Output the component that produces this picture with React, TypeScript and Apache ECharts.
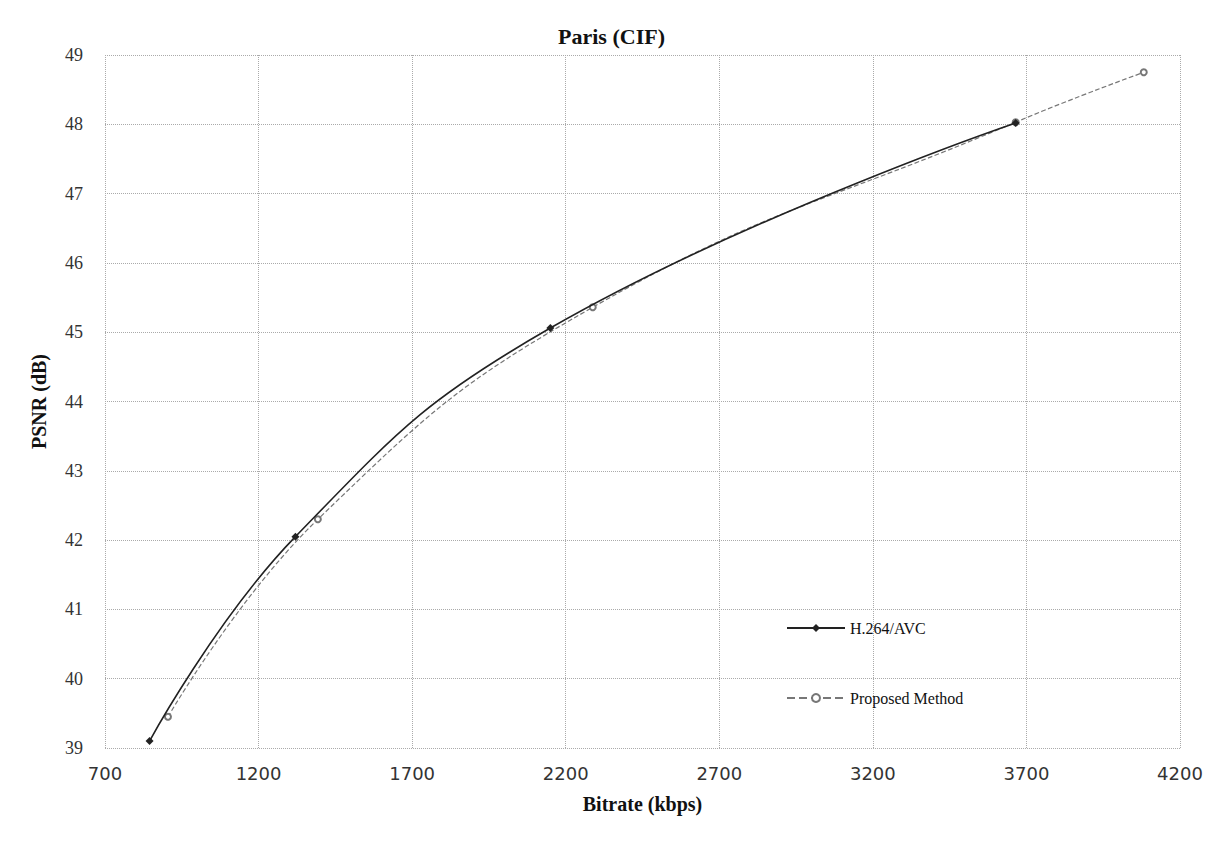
import React, { useEffect, useRef } from "react";
import * as echarts from "echarts";

const xTicks = [700, 1200, 1700, 2200, 2700, 3200, 3700, 4200];
const yTicks = [39, 40, 41, 42, 43, 44, 45, 46, 47, 48, 49];

const h264Rate = [845, 1320, 2150, 3665];
const h264Psnr = [39.1, 42.05, 45.06, 48.02];

const propRate = [905, 1393, 2288, 3665, 4082];
const propPsnr = [39.45, 42.3, 45.36, 48.03, 48.75];

const seriesNames = ["H.264/AVC", "Proposed Method"];

export default function App() {
  const ref = useRef<HTMLDivElement>(null);
  useEffect(() => {
    if (!ref.current) return;
    const chart = echarts.init(ref.current, undefined, { renderer: "svg" });
    const serif = "'Liberation Serif', 'DejaVu Serif', serif";
    chart.setOption({
      animation: false,
      backgroundColor: "#ffffff",
      title: {
        text: "Paris (CIF)",
        left: "center",
        top: 12,
        textStyle: { fontFamily: serif, fontWeight: "bold", fontSize: 22, color: "#111" },
      },
      grid: { left: 97, right: 35, top: 47, bottom: 87 },
      legend: {
        orient: "vertical",
        left: 773,
        top: 607,
        itemGap: 54,
        itemWidth: 58,
        itemHeight: 10,
        data: seriesNames,
        textStyle: { fontFamily: serif, fontSize: 16, color: "#111" },
      },
      xAxis: {
        type: "value",
        min: xTicks[0],
        max: xTicks[xTicks.length - 1],
        interval: 500,
        name: "Bitrate (kbps)",
        nameLocation: "middle",
        nameGap: 46,
        nameTextStyle: { fontFamily: serif, fontWeight: "bold", fontSize: 20, color: "#111" },
        axisLine: { show: false },
        axisTick: { show: false },
        axisLabel: {
          fontFamily: "'DejaVu Sans', sans-serif",
          fontSize: 18,
          color: "#333",
          margin: 16,
          formatter: (v: number) => String(v),
        },
        splitLine: { show: true, lineStyle: { type: "dotted", color: "#aaa", width: 1 } },
      },
      yAxis: {
        type: "value",
        min: yTicks[0],
        max: yTicks[yTicks.length - 1],
        interval: 1,
        name: "PSNR (dB)",
        nameLocation: "middle",
        nameGap: 56,
        nameTextStyle: { fontFamily: serif, fontWeight: "bold", fontSize: 20, color: "#111" },
        axisLine: { show: false },
        axisTick: { show: false },
        axisLabel: { fontFamily: serif, fontSize: 18, color: "#333", margin: 22 },
        splitLine: { show: true, lineStyle: { type: "dotted", color: "#aaa", width: 1 } },
      },
      series: [
        {
          name: seriesNames[0],
          type: "line",
          smooth: 0.45,
          data: h264Rate.map((r, i) => [r, h264Psnr[i]]),
          symbol: "diamond",
          symbolSize: 8,
          lineStyle: { color: "#222", width: 1.6, type: "solid" },
          itemStyle: { color: "#222" },
          z: 3,
        },
        {
          name: seriesNames[1],
          type: "line",
          smooth: 0.45,
          data: propRate.map((r, i) => [r, propPsnr[i]]),
          symbol: "emptyCircle",
          symbolSize: 6,
          lineStyle: { color: "#777", width: 1.2, type: "dashed" },
          itemStyle: { color: "#777", borderColor: "#777" },
          z: 2,
        },
      ],
    });
    return () => chart.dispose();
  }, []);
  return <div ref={ref} style={{ width: 1207, height: 827 }} />;
}
